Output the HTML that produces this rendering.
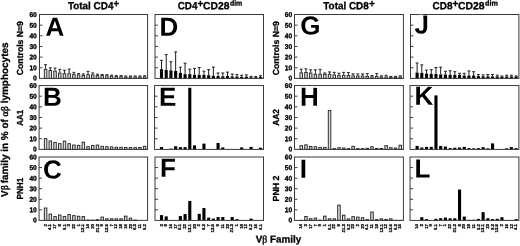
<!DOCTYPE html>
<html lang="en"><head><meta charset="utf-8"><title>V&beta; family repertoire</title>
<style>
html,body{margin:0;padding:0;background:#fff;}
body{width:520px;height:246px;overflow:hidden;}
svg{display:block;font-family:"Liberation Sans",sans-serif;font-weight:bold;fill:#000;}
text{stroke:#000;stroke-width:0.25px;stroke-linejoin:round;text-rendering:geometricPrecision;}
.fr{fill:none;stroke:#3a3a3a;stroke-width:1;}
.tk{stroke:#2a2a2a;stroke-width:0.9;}
.g rect{fill:#dedede;stroke:#262626;stroke-width:0.95;}
.k rect{fill:#000;stroke:none;}
.eg{stroke:#222;stroke-width:1;fill:none;}
.ek{stroke:#1c1c1c;stroke-width:1;fill:none;}
.yl{font-size:7px;text-anchor:end;stroke-width:0.35px;}
.xl{font-size:4.3px;text-anchor:end;stroke-width:0.25px;}
.ti{font-size:10.4px;stroke-width:0.3px;}
.su{font-size:7.2px;stroke-width:0.3px;}
.gl{font-size:10px;text-anchor:middle;stroke-width:0.3px;}
.rl{font-size:8.8px;text-anchor:middle;stroke-width:0.3px;}
.pl{font-size:26px;stroke:none;}
.sy{font-family:"Liberation Serif",serif;font-weight:normal;font-size:10px;stroke-width:0.4px;}
</style></head><body>
<svg width="520" height="246" viewBox="0 0 520 246">
<rect x="0" y="0" width="520" height="246" fill="#fff"/>
<text class="ti" transform="translate(67.9,9.3) rotate(0.03)" textLength="45.5" lengthAdjust="spacingAndGlyphs">Total CD4</text>
<text class="ti" transform="translate(113.6,6.95) rotate(0.03)" textLength="5.7" lengthAdjust="spacingAndGlyphs">+</text>
<text class="ti" transform="translate(177.7,9.3) rotate(0.03)" textLength="19.7" lengthAdjust="spacingAndGlyphs">CD4</text>
<text class="ti" transform="translate(197.4,6.95) rotate(0.03)" textLength="5.9" lengthAdjust="spacingAndGlyphs">+</text>
<text class="ti" transform="translate(203,9.3) rotate(0.03)" textLength="26.4" lengthAdjust="spacingAndGlyphs">CD28</text>
<text class="su" transform="translate(229.9,5.4) rotate(0.03)" textLength="12.4" lengthAdjust="spacingAndGlyphs">dim</text>
<text class="ti" transform="translate(323.3,9.3) rotate(0.03)" textLength="45.4" lengthAdjust="spacingAndGlyphs">Total CD8</text>
<text class="ti" transform="translate(368.9,6.95) rotate(0.03)" textLength="5.9" lengthAdjust="spacingAndGlyphs">+</text>
<text class="ti" transform="translate(432.6,9.3) rotate(0.03)" textLength="19.8" lengthAdjust="spacingAndGlyphs">CD8</text>
<text class="ti" transform="translate(452.4,6.95) rotate(0.03)" textLength="5.9" lengthAdjust="spacingAndGlyphs">+</text>
<text class="ti" transform="translate(458,9.3) rotate(0.03)" textLength="26.6" lengthAdjust="spacingAndGlyphs">CD28</text>
<text class="su" transform="translate(485.1,5.4) rotate(0.03)" textLength="12.8" lengthAdjust="spacingAndGlyphs">dim</text>
<text transform="translate(8.0,120.6) rotate(-90)" class="gl" textLength="154.5" lengthAdjust="spacingAndGlyphs"><tspan dx="0.9">V</tspan><tspan class="sy">&#946;</tspan><tspan dx="-0.9"> family in % of </tspan><tspan class="sy">&#945;&#946;</tspan> lymphocytes</text>
<text class="gl" transform="translate(278.5,242.5) rotate(0.03)" textLength="45.4" lengthAdjust="spacingAndGlyphs">V<tspan class="sy">&#946;</tspan> Family</text>
<text transform="translate(23.4,48.15) rotate(-90)" class="rl" textLength="54" lengthAdjust="spacingAndGlyphs">Controls N=9</text>
<text transform="translate(23.4,117.8) rotate(-90)" class="rl" textLength="16" lengthAdjust="spacingAndGlyphs">AA1</text>
<text transform="translate(23.4,188.6) rotate(-90)" class="rl" textLength="21.8" lengthAdjust="spacingAndGlyphs">PNH1</text>
<text transform="translate(278.8,48.2) rotate(-90)" class="rl" textLength="54" lengthAdjust="spacingAndGlyphs">Controls N=9</text>
<text transform="translate(278.8,117.4) rotate(-90)" class="rl" textLength="16.8" lengthAdjust="spacingAndGlyphs">AA2</text>
<text transform="translate(278.8,188.5) rotate(-90)" class="rl" textLength="25.8" lengthAdjust="spacingAndGlyphs">PNH 2</text>
<g id="panel-A">
<g class="g">
<rect x="44.35" y="69.34" width="2.5" height="9.06"/>
<rect x="49.06" y="70.51" width="2.5" height="7.89"/>
<rect x="53.78" y="71.14" width="2.5" height="7.26"/>
<rect x="58.5" y="73.06" width="2.5" height="5.34"/>
<rect x="63.21" y="73.7" width="2.5" height="4.7"/>
<rect x="67.92" y="73.7" width="2.5" height="4.7"/>
<rect x="72.64" y="74.33" width="2.5" height="4.07"/>
<rect x="77.35" y="74.97" width="2.5" height="3.43"/>
<rect x="82.07" y="75.4" width="2.5" height="3"/>
<rect x="86.78" y="74.65" width="2.5" height="3.75"/>
<rect x="91.5" y="74.97" width="2.5" height="3.43"/>
<rect x="96.22" y="75.61" width="2.5" height="2.79"/>
<rect x="100.93" y="75.61" width="2.5" height="2.79"/>
<rect x="105.65" y="75.82" width="2.5" height="2.58"/>
<rect x="110.36" y="76.25" width="2.5" height="2.15"/>
<rect x="115.07" y="76.67" width="2.5" height="1.73"/>
<rect x="119.79" y="76.67" width="2.5" height="1.73"/>
<rect x="124.5" y="76.99" width="2.5" height="1.41"/>
<rect x="129.22" y="76.99" width="2.5" height="1.41"/>
<rect x="133.94" y="76.99" width="2.5" height="1.41"/>
<rect x="138.65" y="76.99" width="2.5" height="1.41"/>
<rect x="143.37" y="76.78" width="2.5" height="1.62"/>
</g>
<path class="eg" d="M45.6 68.84V64.69M44.15 64.69H47.05M50.31 70.01V67.88M48.86 67.88H51.77M55.03 70.64V68.09M53.58 68.09H56.48M59.75 72.56V69.37M58.3 69.37H61.2M64.46 73.2V70.22M63.01 70.22H65.91M69.17 73.2V69.05M67.72 69.05H70.62M73.89 73.83V72.35M72.44 72.35H75.34M78.6 74.47V73.52M77.15 73.52H80.05M83.32 74.9V73.94M81.87 73.94H84.77M88.03 74.15V71.39M86.58 71.39H89.48M92.75 74.47V72.98M91.3 72.98H94.2M97.47 75.11V74.26M96.02 74.26H98.92M102.18 75.11V74.47M100.73 74.47H103.63M106.9 75.32V74.68M105.45 74.68H108.35M111.61 75.75V75.11M110.16 75.11H113.06M116.32 76.17V75.64M114.87 75.64H117.77M121.04 76.17V75.64M119.59 75.64H122.49M125.75 76.49V75.96M124.3 75.96H127.2M130.47 76.49V75.96M129.02 75.96H131.92M135.19 76.49V75.96M133.74 75.96H136.63M139.9 76.49V75.96M138.45 75.96H141.35M144.62 76.28V75.75M143.17 75.75H146.06"/>
<path class="tk" d="M39.5 67.75H42.5M39.5 57.1H42.5M39.5 46.45H42.5M39.5 35.8H42.5M39.5 25.15H42.5"/>
<rect class="fr" x="39.5" y="14.5" width="108.1" height="63.9"/>
<text class="yl" transform="translate(36.8,80.4) rotate(0.03) scale(0.95,1)">0</text>
<text class="yl" transform="translate(36.8,70.25) rotate(0.03) scale(0.95,1)">10</text>
<text class="yl" transform="translate(36.8,59.6) rotate(0.03) scale(0.95,1)">20</text>
<text class="yl" transform="translate(36.8,48.95) rotate(0.03) scale(0.95,1)">30</text>
<text class="yl" transform="translate(36.8,38.3) rotate(0.03) scale(0.95,1)">40</text>
<text class="yl" transform="translate(36.8,27.65) rotate(0.03) scale(0.95,1)">50</text>
<text class="yl" transform="translate(36.8,17) rotate(0.03) scale(0.95,1)">60</text>
<text class="pl" transform="translate(45.53,35.65) rotate(0.03)">A</text>
</g>
<g id="panel-D">
<g class="k">
<rect x="159.95" y="69.16" width="3.1" height="9.24"/>
<rect x="164.66" y="70.01" width="3.1" height="8.39"/>
<rect x="169.38" y="70.43" width="3.1" height="7.97"/>
<rect x="174.09" y="70.96" width="3.1" height="7.44"/>
<rect x="178.81" y="72.88" width="3.1" height="5.52"/>
<rect x="183.52" y="74.15" width="3.1" height="4.25"/>
<rect x="188.24" y="74.15" width="3.1" height="4.25"/>
<rect x="192.95" y="74.79" width="3.1" height="3.61"/>
<rect x="197.67" y="74.79" width="3.1" height="3.61"/>
<rect x="202.38" y="74.9" width="3.1" height="3.5"/>
<rect x="207.1" y="75.22" width="3.1" height="3.18"/>
<rect x="211.81" y="75.85" width="3.1" height="2.55"/>
<rect x="216.53" y="76.07" width="3.1" height="2.33"/>
<rect x="221.25" y="76.39" width="3.1" height="2.01"/>
<rect x="225.96" y="76.07" width="3.1" height="2.33"/>
<rect x="230.67" y="76.49" width="3.1" height="1.91"/>
<rect x="235.39" y="76.49" width="3.1" height="1.91"/>
<rect x="240.1" y="76.81" width="3.1" height="1.59"/>
<rect x="244.82" y="76.7" width="3.1" height="1.7"/>
<rect x="249.53" y="77.24" width="3.1" height="1.16"/>
<rect x="254.25" y="77.24" width="3.1" height="1.16"/>
<rect x="258.96" y="77.02" width="3.1" height="1.38"/>
</g>
<path class="ek" d="M161.5 69.16V60.33M160.05 60.33H162.95M166.22 70.01V54.59M164.77 54.59H167.66M170.93 70.43V61.71M169.48 61.71H172.38M175.65 70.96V51.93M174.2 51.93H177.09M180.36 72.88V67.24M178.91 67.24H181.81M185.07 74.15V63.2M183.62 63.2H186.52M189.79 74.15V69.16M188.34 69.16H191.24M194.5 74.79V68.41M193.06 68.41H195.95M199.22 74.79V67.56M197.77 67.56H200.67M203.94 74.9V71.18M202.49 71.18H205.38M208.65 75.22V69.58M207.2 69.58H210.1M213.37 75.85V67.13M211.92 67.13H214.81M218.08 76.07V72.98M216.63 72.98H219.53M222.8 76.39V72.98M221.35 72.98H224.25M227.51 76.07V72.13M226.06 72.13H228.96M232.22 76.49V74.05M230.78 74.05H233.67M236.94 76.49V74.58M235.49 74.58H238.39M241.66 76.81V75.22M240.21 75.22H243.1M246.37 76.7V74.9M244.92 74.9H247.82M251.08 77.24V76.39M249.63 76.39H252.53M255.8 77.24V76.6M254.35 76.6H257.25M260.51 77.02V75.75M259.06 75.75H261.96"/>
<path class="tk" d="M155 67.75H158M155 57.1H158M155 46.45H158M155 35.8H158M155 25.15H158"/>
<rect class="fr" x="155" y="14.5" width="108.5" height="63.9"/>
<text class="pl" transform="translate(159.6,35.65) rotate(0.03)">D</text>
</g>
<g id="panel-G">
<g class="g">
<rect x="300" y="72.85" width="2.5" height="5.55"/>
<rect x="304.71" y="72.42" width="2.5" height="5.98"/>
<rect x="309.43" y="73.06" width="2.5" height="5.34"/>
<rect x="314.14" y="74.33" width="2.5" height="4.07"/>
<rect x="318.86" y="74.33" width="2.5" height="4.07"/>
<rect x="323.57" y="74.33" width="2.5" height="4.07"/>
<rect x="328.29" y="74.33" width="2.5" height="4.07"/>
<rect x="333" y="74.97" width="2.5" height="3.43"/>
<rect x="337.72" y="75.4" width="2.5" height="3"/>
<rect x="342.44" y="75.29" width="2.5" height="3.11"/>
<rect x="347.15" y="75.5" width="2.5" height="2.9"/>
<rect x="351.87" y="75.82" width="2.5" height="2.58"/>
<rect x="356.58" y="76.04" width="2.5" height="2.36"/>
<rect x="361.3" y="76.04" width="2.5" height="2.36"/>
<rect x="366.01" y="76.35" width="2.5" height="2.05"/>
<rect x="370.73" y="76.89" width="2.5" height="1.51"/>
<rect x="375.44" y="76.35" width="2.5" height="2.05"/>
<rect x="380.15" y="76.99" width="2.5" height="1.41"/>
<rect x="384.87" y="76.89" width="2.5" height="1.51"/>
<rect x="389.58" y="77.31" width="2.5" height="1.09"/>
<rect x="394.3" y="77.31" width="2.5" height="1.09"/>
<rect x="399.01" y="76.99" width="2.5" height="1.41"/>
</g>
<path class="eg" d="M301.25 72.35V69.16M299.8 69.16H302.7M305.96 71.92V68.84M304.51 68.84H307.41M310.68 72.56V69.79M309.23 69.79H312.13M315.39 73.83V69.79M313.94 69.79H316.84M320.11 73.83V69.37M318.66 69.37H321.56M324.82 73.83V72.98M323.38 72.98H326.27M329.54 73.83V71.92M328.09 71.92H330.99M334.25 74.47V72.35M332.81 72.35H335.7M338.97 74.9V73.2M337.52 73.2H340.42M343.69 74.79V72.35M342.24 72.35H345.13M348.4 75V72.56M346.95 72.56H349.85M353.12 75.32V73.83M351.67 73.83H354.56M357.83 75.54V73.94M356.38 73.94H359.28M362.55 75.54V73.94M361.1 73.94H364M367.26 75.85V73.62M365.81 73.62H368.71M371.98 76.39V75.54M370.53 75.54H373.43M376.69 75.85V73.62M375.24 73.62H378.14M381.4 76.49V75.85M379.95 75.85H382.85M386.12 76.39V75.22M384.67 75.22H387.57M390.83 76.81V76.39M389.38 76.39H392.28M395.55 76.81V76.39M394.1 76.39H397M400.26 76.49V75.85M398.81 75.85H401.71"/>
<path class="tk" d="M294.5 67.75H297.5M294.5 57.1H297.5M294.5 46.45H297.5M294.5 35.8H297.5M294.5 25.15H297.5"/>
<rect class="fr" x="294.5" y="14.5" width="108.9" height="63.9"/>
<text class="yl" transform="translate(292.2,80.4) rotate(0.03) scale(0.95,1)">0</text>
<text class="yl" transform="translate(292.2,70.25) rotate(0.03) scale(0.95,1)">10</text>
<text class="yl" transform="translate(292.2,59.6) rotate(0.03) scale(0.95,1)">20</text>
<text class="yl" transform="translate(292.2,48.95) rotate(0.03) scale(0.95,1)">30</text>
<text class="yl" transform="translate(292.2,38.3) rotate(0.03) scale(0.95,1)">40</text>
<text class="yl" transform="translate(292.2,27.65) rotate(0.03) scale(0.95,1)">50</text>
<text class="yl" transform="translate(292.2,17) rotate(0.03) scale(0.95,1)">60</text>
<text class="pl" transform="translate(300.25,34.4) rotate(0.03)">G</text>
</g>
<g id="panel-J">
<g class="k">
<rect x="415.55" y="72.56" width="3.1" height="5.84"/>
<rect x="420.26" y="72.88" width="3.1" height="5.52"/>
<rect x="424.98" y="73.62" width="3.1" height="4.78"/>
<rect x="429.69" y="73.94" width="3.1" height="4.46"/>
<rect x="434.41" y="73.94" width="3.1" height="4.46"/>
<rect x="439.12" y="74.47" width="3.1" height="3.93"/>
<rect x="443.84" y="74.47" width="3.1" height="3.93"/>
<rect x="448.56" y="74.79" width="3.1" height="3.61"/>
<rect x="453.27" y="74.79" width="3.1" height="3.61"/>
<rect x="457.99" y="74.9" width="3.1" height="3.5"/>
<rect x="462.7" y="75.54" width="3.1" height="2.86"/>
<rect x="467.42" y="75.54" width="3.1" height="2.86"/>
<rect x="472.13" y="75.54" width="3.1" height="2.86"/>
<rect x="476.85" y="76.07" width="3.1" height="2.33"/>
<rect x="481.56" y="76.39" width="3.1" height="2.01"/>
<rect x="486.28" y="76.39" width="3.1" height="2.01"/>
<rect x="490.99" y="76.39" width="3.1" height="2.01"/>
<rect x="495.7" y="76.49" width="3.1" height="1.91"/>
<rect x="500.42" y="76.81" width="3.1" height="1.59"/>
<rect x="505.13" y="76.49" width="3.1" height="1.91"/>
<rect x="509.85" y="76.49" width="3.1" height="1.91"/>
<rect x="514.57" y="76.39" width="3.1" height="2.01"/>
</g>
<path class="ek" d="M417.1 72.56V62.99M415.65 62.99H418.55M421.81 72.88V64.9M420.37 64.9H423.26M426.53 73.62V70.11M425.08 70.11H427.98M431.25 73.94V69.69M429.8 69.69H432.69M435.96 73.94V67.56M434.51 67.56H437.41M440.68 74.47V67.24M439.23 67.24H442.12M445.39 74.47V71.28M443.94 71.28H446.84M450.11 74.79V70.75M448.66 70.75H451.56M454.82 74.79V71.71M453.37 71.71H456.27M459.54 74.9V73.3M458.09 73.3H460.99M464.25 75.54V73.3M462.8 73.3H465.7M468.97 75.54V70.96M467.52 70.96H470.42M473.68 75.54V71.71M472.23 71.71H475.13M478.4 76.07V74.47M476.95 74.47H479.85M483.11 76.39V74.9M481.66 74.9H484.56M487.83 76.39V74.47M486.38 74.47H489.28M492.54 76.39V74.47M491.09 74.47H493.99M497.25 76.49V75.22M495.81 75.22H498.7M501.97 76.81V76.07M500.52 76.07H503.42M506.69 76.49V75.22M505.24 75.22H508.13M511.4 76.49V75.22M509.95 75.22H512.85M516.12 76.39V75.96M514.66 75.96H517.57"/>
<path class="tk" d="M410.5 67.75H413.5M410.5 57.1H413.5M410.5 46.45H413.5M410.5 35.8H413.5M410.5 25.15H413.5"/>
<rect class="fr" x="410.5" y="14.5" width="108.4" height="63.9"/>
<text class="pl" transform="translate(414.55,33.45) rotate(0.03)">J</text>
<rect x="418.97" y="14.73" width="4.32" height="4.55" fill="#fff"/>
</g>
<g id="panel-B">
<g class="g">
<rect x="44.35" y="138.61" width="2.5" height="10.79"/>
<rect x="49.06" y="140.93" width="2.5" height="8.47"/>
<rect x="53.78" y="142.41" width="2.5" height="6.99"/>
<rect x="58.5" y="143.68" width="2.5" height="5.72"/>
<rect x="63.21" y="141.15" width="2.5" height="8.25"/>
<rect x="67.92" y="143.68" width="2.5" height="5.72"/>
<rect x="72.64" y="145.06" width="2.5" height="4.34"/>
<rect x="77.35" y="145.38" width="2.5" height="4.02"/>
<rect x="82.07" y="142.2" width="2.5" height="7.2"/>
<rect x="86.78" y="146.64" width="2.5" height="2.76"/>
<rect x="91.5" y="145.48" width="2.5" height="3.92"/>
<rect x="96.22" y="145.06" width="2.5" height="4.34"/>
<rect x="100.93" y="146.33" width="2.5" height="3.07"/>
<rect x="105.65" y="146.64" width="2.5" height="2.76"/>
<rect x="110.36" y="146.96" width="2.5" height="2.44"/>
<rect x="115.07" y="147.28" width="2.5" height="2.12"/>
<rect x="119.79" y="147.28" width="2.5" height="2.12"/>
<rect x="124.5" y="147.49" width="2.5" height="1.91"/>
<rect x="129.22" y="147.6" width="2.5" height="1.8"/>
<rect x="133.94" y="147.6" width="2.5" height="1.8"/>
<rect x="138.65" y="147.49" width="2.5" height="1.91"/>
<rect x="143.37" y="146.33" width="2.5" height="3.07"/>
</g>
<path class="tk" d="M39.1 138.76H42.1M39.1 128.12H42.1M39.1 117.48H42.1M39.1 106.83H42.1M39.1 96.19H42.1"/>
<rect class="fr" x="39.1" y="85.55" width="108.5" height="63.85"/>
<text class="yl" transform="translate(36.8,151.4) rotate(0.03) scale(0.95,1)">0</text>
<text class="yl" transform="translate(36.8,141.26) rotate(0.03) scale(0.95,1)">10</text>
<text class="yl" transform="translate(36.8,130.62) rotate(0.03) scale(0.95,1)">20</text>
<text class="yl" transform="translate(36.8,119.98) rotate(0.03) scale(0.95,1)">30</text>
<text class="yl" transform="translate(36.8,109.33) rotate(0.03) scale(0.95,1)">40</text>
<text class="yl" transform="translate(36.8,98.69) rotate(0.03) scale(0.95,1)">50</text>
<text class="yl" transform="translate(36.8,88.05) rotate(0.03) scale(0.95,1)">60</text>
<text class="pl" transform="translate(43.1,105.8) rotate(0.03)">B</text>
</g>
<g id="panel-E">
<g class="k">
<rect x="159.95" y="147.1" width="3.1" height="2.3"/>
<rect x="169.38" y="148.68" width="3.1" height="0.72"/>
<rect x="174.09" y="146.25" width="3.1" height="3.15"/>
<rect x="178.81" y="147.1" width="3.1" height="2.3"/>
<rect x="183.52" y="147.1" width="3.1" height="2.3"/>
<rect x="188.24" y="87.77" width="3.1" height="61.63"/>
<rect x="192.95" y="145.4" width="3.1" height="4"/>
<rect x="202.38" y="143.61" width="3.1" height="5.79"/>
<rect x="216.53" y="142.97" width="3.1" height="6.43"/>
<rect x="221.25" y="147.41" width="3.1" height="1.99"/>
<rect x="240.1" y="147.41" width="3.1" height="1.99"/>
<rect x="249.53" y="146.88" width="3.1" height="2.52"/>
<rect x="258.96" y="147.73" width="3.1" height="1.67"/>
</g>
<path class="tk" d="M154.55 138.76H157.55M154.55 128.12H157.55M154.55 117.48H157.55M154.55 106.83H157.55M154.55 96.19H157.55"/>
<rect class="fr" x="154.55" y="85.55" width="108.95" height="63.85"/>
<text class="pl" transform="translate(159,105.85) rotate(0.03)">E</text>
</g>
<g id="panel-H">
<g class="g">
<rect x="300" y="145.69" width="2.5" height="3.71"/>
<rect x="304.71" y="144.85" width="2.5" height="4.55"/>
<rect x="309.43" y="146.43" width="2.5" height="2.97"/>
<rect x="314.14" y="146.75" width="2.5" height="2.65"/>
<rect x="318.86" y="147.38" width="2.5" height="2.02"/>
<rect x="323.57" y="147.38" width="2.5" height="2.02"/>
<rect x="328.29" y="110.58" width="2.5" height="38.82"/>
<rect x="333" y="148.65" width="2.5" height="0.75"/>
<rect x="337.72" y="147.7" width="2.5" height="1.7"/>
<rect x="342.44" y="148.02" width="2.5" height="1.38"/>
<rect x="347.15" y="148.65" width="2.5" height="0.75"/>
<rect x="351.87" y="146.33" width="2.5" height="3.07"/>
<rect x="356.58" y="148.65" width="2.5" height="0.75"/>
<rect x="361.3" y="148.65" width="2.5" height="0.75"/>
<rect x="366.01" y="148.23" width="2.5" height="1.17"/>
<rect x="370.73" y="146.75" width="2.5" height="2.65"/>
<rect x="375.44" y="148.44" width="2.5" height="0.96"/>
<rect x="380.15" y="148.44" width="2.5" height="0.96"/>
<rect x="384.87" y="145.69" width="2.5" height="3.71"/>
<rect x="389.58" y="147.7" width="2.5" height="1.7"/>
<rect x="394.3" y="148.02" width="2.5" height="1.38"/>
<rect x="399.01" y="145.27" width="2.5" height="4.13"/>
</g>
<path class="tk" d="M294.5 138.76H297.5M294.5 128.12H297.5M294.5 117.48H297.5M294.5 106.83H297.5M294.5 96.19H297.5"/>
<rect class="fr" x="294.5" y="85.55" width="108.9" height="63.85"/>
<text class="yl" transform="translate(292.2,151.4) rotate(0.03) scale(0.95,1)">0</text>
<text class="yl" transform="translate(292.2,141.26) rotate(0.03) scale(0.95,1)">10</text>
<text class="yl" transform="translate(292.2,130.62) rotate(0.03) scale(0.95,1)">20</text>
<text class="yl" transform="translate(292.2,119.98) rotate(0.03) scale(0.95,1)">30</text>
<text class="yl" transform="translate(292.2,109.33) rotate(0.03) scale(0.95,1)">40</text>
<text class="yl" transform="translate(292.2,98.69) rotate(0.03) scale(0.95,1)">50</text>
<text class="yl" transform="translate(292.2,88.05) rotate(0.03) scale(0.95,1)">60</text>
<text class="pl" transform="translate(299.95,105.65) rotate(0.03)">H</text>
</g>
<g id="panel-K">
<g class="k">
<rect x="415.55" y="145.93" width="3.1" height="3.47"/>
<rect x="420.26" y="147.52" width="3.1" height="1.88"/>
<rect x="424.98" y="146.88" width="3.1" height="2.52"/>
<rect x="429.69" y="146.88" width="3.1" height="2.52"/>
<rect x="434.41" y="95.38" width="3.1" height="54.02"/>
<rect x="439.12" y="145.93" width="3.1" height="3.47"/>
<rect x="443.84" y="146.57" width="3.1" height="2.83"/>
<rect x="448.56" y="148.15" width="3.1" height="1.25"/>
<rect x="453.27" y="147.73" width="3.1" height="1.67"/>
<rect x="457.99" y="147.52" width="3.1" height="1.88"/>
<rect x="462.7" y="146.88" width="3.1" height="2.52"/>
<rect x="467.42" y="148.15" width="3.1" height="1.25"/>
<rect x="472.13" y="148.37" width="3.1" height="1.03"/>
<rect x="476.85" y="148.15" width="3.1" height="1.25"/>
<rect x="481.56" y="147.2" width="3.1" height="2.2"/>
<rect x="486.28" y="148.37" width="3.1" height="1.03"/>
<rect x="490.99" y="143.4" width="3.1" height="6"/>
<rect x="505.13" y="148.37" width="3.1" height="1.03"/>
<rect x="509.85" y="147.1" width="3.1" height="2.3"/>
<rect x="514.57" y="148.15" width="3.1" height="1.25"/>
</g>
<path class="tk" d="M410.05 138.76H413.05M410.05 128.12H413.05M410.05 117.48H413.05M410.05 106.83H413.05M410.05 96.19H413.05"/>
<rect class="fr" x="410.05" y="85.55" width="108.85" height="63.85"/>
<text class="pl" transform="translate(414.5,104.85) rotate(0.03)">K</text>
</g>
<g id="panel-C">
<g class="g">
<rect x="44.35" y="208.01" width="2.5" height="12.39"/>
<rect x="49.06" y="214.14" width="2.5" height="6.26"/>
<rect x="53.78" y="216.57" width="2.5" height="3.83"/>
<rect x="58.5" y="214.98" width="2.5" height="5.42"/>
<rect x="63.21" y="216.46" width="2.5" height="3.94"/>
<rect x="67.92" y="214.56" width="2.5" height="5.84"/>
<rect x="72.64" y="215.62" width="2.5" height="4.78"/>
<rect x="77.35" y="216.25" width="2.5" height="4.15"/>
<rect x="82.07" y="216.57" width="2.5" height="3.83"/>
<rect x="86.78" y="220.05" width="2.5" height="0.35"/>
<rect x="91.5" y="220.16" width="2.5" height="0.24"/>
<rect x="96.22" y="219.63" width="2.5" height="0.77"/>
<rect x="100.93" y="217.1" width="2.5" height="3.3"/>
<rect x="105.65" y="218.79" width="2.5" height="1.61"/>
<rect x="110.36" y="218.79" width="2.5" height="1.61"/>
<rect x="115.07" y="218.79" width="2.5" height="1.61"/>
<rect x="119.79" y="218.79" width="2.5" height="1.61"/>
<rect x="124.5" y="216.15" width="2.5" height="4.25"/>
<rect x="129.22" y="218.15" width="2.5" height="2.25"/>
<rect x="133.94" y="220.05" width="2.5" height="0.35"/>
<rect x="138.65" y="220.58" width="2.5" height="-0.18"/>
<rect x="143.37" y="220.58" width="2.5" height="-0.18"/>
</g>
<path class="tk" d="M39.05 209.83H42.05M39.05 199.27H42.05M39.05 188.7H42.05M39.05 178.13H42.05M39.05 167.57H42.05"/>
<rect class="fr" x="39.05" y="157" width="108.55" height="63.4"/>
<text class="yl" transform="translate(36.8,222.4) rotate(0.03) scale(0.95,1)">0</text>
<text class="yl" transform="translate(36.8,212.33) rotate(0.03) scale(0.95,1)">10</text>
<text class="yl" transform="translate(36.8,201.77) rotate(0.03) scale(0.95,1)">20</text>
<text class="yl" transform="translate(36.8,191.2) rotate(0.03) scale(0.95,1)">30</text>
<text class="yl" transform="translate(36.8,180.63) rotate(0.03) scale(0.95,1)">40</text>
<text class="yl" transform="translate(36.8,170.07) rotate(0.03) scale(0.95,1)">50</text>
<text class="yl" transform="translate(36.8,159.5) rotate(0.03) scale(0.95,1)">60</text>
<text class="pl" transform="translate(42.9,178.4) rotate(0.03)">C</text>
<text class="xl" transform="translate(46.7,224) rotate(-90)">2</text>
<text class="xl" transform="translate(51.41,224) rotate(-90)">4.1</text>
<text class="xl" transform="translate(56.13,224) rotate(-90)">17</text>
<text class="xl" transform="translate(60.85,224) rotate(-90)">8</text>
<text class="xl" transform="translate(65.56,224) rotate(-90)">5.1</text>
<text class="xl" transform="translate(70.27,224) rotate(-90)">3</text>
<text class="xl" transform="translate(74.99,224) rotate(-90)">22</text>
<text class="xl" transform="translate(79.7,224) rotate(-90)">1</text>
<text class="xl" transform="translate(84.42,224) rotate(-90)">13.1</text>
<text class="xl" transform="translate(89.13,224) rotate(-90)">14</text>
<text class="xl" transform="translate(93.85,224) rotate(-90)">20</text>
<text class="xl" transform="translate(98.56,224) rotate(-90)">21.3</text>
<text class="xl" transform="translate(103.28,224) rotate(-90)">9</text>
<text class="xl" transform="translate(108,224) rotate(-90)">13.6</text>
<text class="xl" transform="translate(112.71,224) rotate(-90)">7</text>
<text class="xl" transform="translate(117.42,224) rotate(-90)">12</text>
<text class="xl" transform="translate(122.14,224) rotate(-90)">18</text>
<text class="xl" transform="translate(126.85,224) rotate(-90)">16</text>
<text class="xl" transform="translate(131.57,224) rotate(-90)">23</text>
<text class="xl" transform="translate(136.28,224) rotate(-90)">5.3</text>
<text class="xl" transform="translate(141,224) rotate(-90)">11</text>
<text class="xl" transform="translate(145.72,224) rotate(-90)">5.2</text>
</g>
<g id="panel-F">
<g class="k">
<rect x="159.95" y="215.12" width="3.1" height="5.28"/>
<rect x="164.66" y="216.38" width="3.1" height="4.02"/>
<rect x="178.81" y="216.07" width="3.1" height="4.33"/>
<rect x="183.52" y="214.06" width="3.1" height="6.34"/>
<rect x="188.24" y="200.96" width="3.1" height="19.44"/>
<rect x="197.67" y="213.85" width="3.1" height="6.55"/>
<rect x="202.38" y="208.04" width="3.1" height="12.36"/>
<rect x="207.1" y="217.65" width="3.1" height="2.75"/>
<rect x="211.81" y="218.6" width="3.1" height="1.8"/>
<rect x="216.53" y="217.02" width="3.1" height="3.38"/>
<rect x="221.25" y="217.02" width="3.1" height="3.38"/>
<rect x="230.67" y="217.02" width="3.1" height="3.38"/>
<rect x="235.39" y="219.13" width="3.1" height="1.27"/>
<rect x="249.53" y="218.6" width="3.1" height="1.8"/>
</g>
<path class="tk" d="M155 209.83H158M155 199.27H158M155 188.7H158M155 178.13H158M155 167.57H158"/>
<rect class="fr" x="155" y="157" width="108.5" height="63.4"/>
<text class="pl" transform="translate(160.1,176.8) rotate(0.03)">F</text>
<text class="xl" transform="translate(162.6,224) rotate(-90)">3</text>
<text class="xl" transform="translate(167.31,224) rotate(-90)">8</text>
<text class="xl" transform="translate(172.03,224) rotate(-90)">14</text>
<text class="xl" transform="translate(176.75,224) rotate(-90)">17</text>
<text class="xl" transform="translate(181.46,224) rotate(-90)">5.1</text>
<text class="xl" transform="translate(186.17,224) rotate(-90)">22</text>
<text class="xl" transform="translate(190.89,224) rotate(-90)">13.1</text>
<text class="xl" transform="translate(195.6,224) rotate(-90)">20</text>
<text class="xl" transform="translate(200.32,224) rotate(-90)">2</text>
<text class="xl" transform="translate(205.03,224) rotate(-90)">5.3</text>
<text class="xl" transform="translate(209.75,224) rotate(-90)">7</text>
<text class="xl" transform="translate(214.47,224) rotate(-90)">13.6</text>
<text class="xl" transform="translate(219.18,224) rotate(-90)">9</text>
<text class="xl" transform="translate(223.9,224) rotate(-90)">11</text>
<text class="xl" transform="translate(228.61,224) rotate(-90)">23</text>
<text class="xl" transform="translate(233.32,224) rotate(-90)">21.3</text>
<text class="xl" transform="translate(238.04,224) rotate(-90)">1</text>
<text class="xl" transform="translate(242.75,224) rotate(-90)">18</text>
<text class="xl" transform="translate(247.47,224) rotate(-90)">12</text>
<text class="xl" transform="translate(252.18,224) rotate(-90)">5.2</text>
<text class="xl" transform="translate(256.9,224) rotate(-90)">16</text>
<text class="xl" transform="translate(261.62,224) rotate(-90)">4.1</text>
</g>
<g id="panel-I">
<g class="g">
<rect x="300" y="220.37" width="2.5" height="0.03"/>
<rect x="304.71" y="216.46" width="2.5" height="3.94"/>
<rect x="309.43" y="218.68" width="2.5" height="1.72"/>
<rect x="314.14" y="218.05" width="2.5" height="2.35"/>
<rect x="318.36" y="219.75" width="3.5" height="1.3" style="fill:#111;stroke:none"/>
<rect x="323.57" y="216.15" width="2.5" height="4.25"/>
<rect x="328.29" y="218.79" width="2.5" height="1.61"/>
<rect x="333" y="218.79" width="2.5" height="1.61"/>
<rect x="337.72" y="205.16" width="2.5" height="15.24"/>
<rect x="342.44" y="215.19" width="2.5" height="5.21"/>
<rect x="347.15" y="218.89" width="2.5" height="1.51"/>
<rect x="351.87" y="216.67" width="2.5" height="3.73"/>
<rect x="356.58" y="217.1" width="2.5" height="3.3"/>
<rect x="361.3" y="217.73" width="2.5" height="2.67"/>
<rect x="366.01" y="219.63" width="2.5" height="0.77"/>
<rect x="370.73" y="212.02" width="2.5" height="8.38"/>
<rect x="375.44" y="219.63" width="2.5" height="0.77"/>
<rect x="380.15" y="218.79" width="2.5" height="1.61"/>
<rect x="384.87" y="219.42" width="2.5" height="0.98"/>
<rect x="389.58" y="218.79" width="2.5" height="1.61"/>
<rect x="394.3" y="220.37" width="2.5" height="0.03"/>
<rect x="399.01" y="220.37" width="2.5" height="0.03"/>
</g>
<path class="tk" d="M294.5 209.83H297.5M294.5 199.27H297.5M294.5 188.7H297.5M294.5 178.13H297.5M294.5 167.57H297.5"/>
<rect class="fr" x="294.5" y="157" width="108.9" height="63.4"/>
<text class="yl" transform="translate(292.2,222.4) rotate(0.03) scale(0.95,1)">0</text>
<text class="yl" transform="translate(292.2,212.33) rotate(0.03) scale(0.95,1)">10</text>
<text class="yl" transform="translate(292.2,201.77) rotate(0.03) scale(0.95,1)">20</text>
<text class="yl" transform="translate(292.2,191.2) rotate(0.03) scale(0.95,1)">30</text>
<text class="yl" transform="translate(292.2,180.63) rotate(0.03) scale(0.95,1)">40</text>
<text class="yl" transform="translate(292.2,170.07) rotate(0.03) scale(0.95,1)">50</text>
<text class="yl" transform="translate(292.2,159.5) rotate(0.03) scale(0.95,1)">60</text>
<text class="pl" transform="translate(299.7,177.75) rotate(0.03)">I</text>
<text class="xl" transform="translate(302.35,224) rotate(-90)">14</text>
<text class="xl" transform="translate(307.06,224) rotate(-90)">3</text>
<text class="xl" transform="translate(311.78,224) rotate(-90)">17</text>
<text class="xl" transform="translate(316.5,224) rotate(-90)">7</text>
<text class="xl" transform="translate(321.21,224) rotate(-90)">9</text>
<text class="xl" transform="translate(325.93,224) rotate(-90)">1</text>
<text class="xl" transform="translate(330.64,224) rotate(-90)">5.1</text>
<text class="xl" transform="translate(335.36,224) rotate(-90)">22</text>
<text class="xl" transform="translate(340.07,224) rotate(-90)">8</text>
<text class="xl" transform="translate(344.79,224) rotate(-90)">21.3</text>
<text class="xl" transform="translate(349.5,224) rotate(-90)">5.2</text>
<text class="xl" transform="translate(354.22,224) rotate(-90)">23</text>
<text class="xl" transform="translate(358.93,224) rotate(-90)">2</text>
<text class="xl" transform="translate(363.65,224) rotate(-90)">20</text>
<text class="xl" transform="translate(368.36,224) rotate(-90)">4.1</text>
<text class="xl" transform="translate(373.08,224) rotate(-90)">11</text>
<text class="xl" transform="translate(377.79,224) rotate(-90)">18</text>
<text class="xl" transform="translate(382.5,224) rotate(-90)">13.1</text>
<text class="xl" transform="translate(387.22,224) rotate(-90)">12</text>
<text class="xl" transform="translate(391.94,224) rotate(-90)">13.6</text>
<text class="xl" transform="translate(396.65,224) rotate(-90)">5.3</text>
<text class="xl" transform="translate(401.37,224) rotate(-90)">16</text>
</g>
<g id="panel-L">
<g class="k">
<rect x="420.26" y="217.23" width="3.1" height="3.17"/>
<rect x="424.98" y="219.13" width="3.1" height="1.27"/>
<rect x="434.41" y="218.81" width="3.1" height="1.59"/>
<rect x="439.12" y="218.18" width="3.1" height="2.22"/>
<rect x="443.84" y="217.55" width="3.1" height="2.85"/>
<rect x="448.56" y="218.29" width="3.1" height="2.11"/>
<rect x="453.27" y="218.29" width="3.1" height="2.11"/>
<rect x="457.99" y="189.55" width="3.1" height="30.85"/>
<rect x="462.7" y="216.6" width="3.1" height="3.8"/>
<rect x="467.42" y="219.87" width="3.1" height="0.53"/>
<rect x="472.13" y="219.77" width="3.1" height="0.63"/>
<rect x="476.85" y="218.92" width="3.1" height="1.48"/>
<rect x="481.56" y="212.16" width="3.1" height="8.24"/>
<rect x="486.28" y="218.29" width="3.1" height="2.11"/>
<rect x="490.99" y="219.13" width="3.1" height="1.27"/>
<rect x="495.7" y="218.81" width="3.1" height="1.59"/>
<rect x="500.42" y="217.23" width="3.1" height="3.17"/>
<rect x="505.13" y="219.98" width="3.1" height="0.42"/>
<rect x="509.85" y="219.98" width="3.1" height="0.42"/>
<rect x="514.57" y="219.13" width="3.1" height="1.27"/>
</g>
<path class="tk" d="M410.05 209.83H413.05M410.05 199.27H413.05M410.05 188.7H413.05M410.05 178.13H413.05M410.05 167.57H413.05"/>
<rect class="fr" x="410.05" y="157" width="108.85" height="63.4"/>
<text class="pl" transform="translate(414.47,177.6) rotate(0.03)">L</text>
<text class="xl" transform="translate(418.2,224) rotate(-90)">14</text>
<text class="xl" transform="translate(422.92,224) rotate(-90)">3</text>
<text class="xl" transform="translate(427.63,224) rotate(-90)">17</text>
<text class="xl" transform="translate(432.35,224) rotate(-90)">9</text>
<text class="xl" transform="translate(437.06,224) rotate(-90)">5.1</text>
<text class="xl" transform="translate(441.78,224) rotate(-90)">7</text>
<text class="xl" transform="translate(446.49,224) rotate(-90)">1</text>
<text class="xl" transform="translate(451.21,224) rotate(-90)">22</text>
<text class="xl" transform="translate(455.92,224) rotate(-90)">21.3</text>
<text class="xl" transform="translate(460.64,224) rotate(-90)">8</text>
<text class="xl" transform="translate(465.35,224) rotate(-90)">20</text>
<text class="xl" transform="translate(470.07,224) rotate(-90)">18</text>
<text class="xl" transform="translate(474.78,224) rotate(-90)">11</text>
<text class="xl" transform="translate(479.5,224) rotate(-90)">5.2</text>
<text class="xl" transform="translate(484.21,224) rotate(-90)">13.1</text>
<text class="xl" transform="translate(488.93,224) rotate(-90)">23</text>
<text class="xl" transform="translate(493.64,224) rotate(-90)">5.3</text>
<text class="xl" transform="translate(498.36,224) rotate(-90)">13.6</text>
<text class="xl" transform="translate(503.07,224) rotate(-90)">2</text>
<text class="xl" transform="translate(507.79,224) rotate(-90)">16</text>
<text class="xl" transform="translate(512.5,224) rotate(-90)">12</text>
<text class="xl" transform="translate(517.22,224) rotate(-90)">4.1</text>
</g>
</svg>
</body></html>
